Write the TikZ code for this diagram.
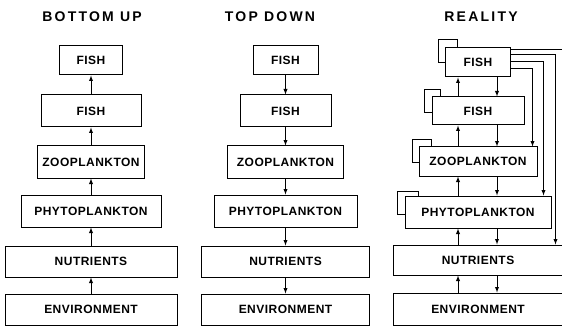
\documentclass[tikz,border=0pt]{standalone}
\usepackage{fontspec}
\setmainfont{Liberation Sans}
\usetikzlibrary{arrows}
\usetikzlibrary{calc}
\newcommand{\diagboxfont}{\bfseries\fontsize{12}{13}\selectfont\addfontfeature{LetterSpace=4}}
\newcommand{\diagtitlefont}{\bfseries\fontsize{14}{15}\selectfont\addfontfeature{LetterSpace=16}}

\begin{document}
\begin{tikzpicture}
	[
	x = 1pt, y = -1pt,
	> = latex,
	box/.style = {draw, line width=1pt, inner sep=0pt, font=\diagboxfont},
	title/.style = {font=\diagtitlefont},
	link/.style = {line width=0.9pt}
	]
		\useasboundingbox (0,0) rectangle (562,326);

		\node[title] (tbu) at (92,17) {BOTTOM UP};
		\node[title] (ttd) at (270,17) {TOP DOWN};
		\node[title] (tre) at (481,17) {REALITY};

		% bottom up
		\node[box, minimum width=63, minimum height=29] (bufishA) at (91,60.5) {FISH};
		\node[box, minimum width=100, minimum height=32] (bufishB) at (91,111) {FISH};
		\node[box, minimum width=107, minimum height=32] (buzoo) at (91,162) {ZOOPLANKTON};
		\node[box, minimum width=140, minimum height=32] (buphy) at (91,211) {PHYTOPLANKTON};
		\node[box, minimum width=172, minimum height=31] (bunut) at (91,261.5) {NUTRIENTS};
		\node[box, minimum width=172, minimum height=31] (buenv) at (91,309.5) {ENVIRONMENT};

		\draw[link,->] (bufishB) -- (bufishA);
		\draw[link,->] (buzoo) -- (bufishB);
		\draw[link,->] (buphy) -- (buzoo);
		\draw[link,->] (bunut) -- (buphy);
		\draw[link,->] (buenv) -- (bunut);

		% top down
		\node[box, minimum width=65, minimum height=29] (tdfishA) at (285.5,60.5) {FISH};
		\node[box, minimum width=91, minimum height=32] (tdfishB) at (285.5,111) {FISH};
		\node[box, minimum width=116, minimum height=32] (tdzoo) at (285.5,162) {ZOOPLANKTON};
		\node[box, minimum width=143, minimum height=32] (tdphy) at (285.5,211) {PHYTOPLANKTON};
		\node[box, minimum width=168, minimum height=31] (tdnut) at (285.5,261.5) {NUTRIENTS};
		\node[box, minimum width=168, minimum height=31] (tdenv) at (285.5,309.5) {ENVIRONMENT};

		\draw[link,->] (tdfishA) -- (tdfishB);
		\draw[link,->] (tdfishB) -- (tdzoo);
		\draw[link,->] (tdzoo) -- (tdphy);
		\draw[link,->] (tdphy) -- (tdnut);
		\draw[link,->] (tdnut) -- (tdenv);

		% reality
		\node[box, minimum width=65, minimum height=29] (refishA) at (478,62.5) {FISH};
		\node[box, minimum width=92, minimum height=28] (refishB) at (478,111) {FISH};
		\node[box, minimum width=118, minimum height=29] (rezoo) at (478,161.5) {ZOOPLANKTON};
		\node[box, minimum width=146, minimum height=32] (rephy) at (478,212) {PHYTOPLANKTON};
		\node[box, minimum width=169, minimum height=30] (renut) at (478,260) {NUTRIENTS};
		\node[box, minimum width=169, minimum height=32] (reenv) at (478,309) {ENVIRONMENT};

		\draw[link,->] ([xshift=-20pt]refishB.north) -- ([xshift=-20pt]refishA.south);
		\draw[link,->] ([xshift=19pt]refishA.south) -- ([xshift=19pt]refishB.north);
		\draw[link,->] ([xshift=-20pt]rezoo.north) -- ([xshift=-20pt]refishB.south);
		\draw[link,->] ([xshift=19pt]refishB.south) -- ([xshift=19pt]rezoo.north);
		\draw[link,->] ([xshift=-20pt]rephy.north) -- ([xshift=-20pt]rezoo.south);
		\draw[link,->] ([xshift=19pt]rezoo.south) -- ([xshift=19pt]rephy.north);
		\draw[link,->] ([xshift=-20pt]renut.north) -- ([xshift=-20pt]rephy.south);
		\draw[link,->] ([xshift=19pt]rephy.south) -- ([xshift=19pt]renut.north);
		\draw[link,->] ([xshift=-20pt]reenv.north) -- ([xshift=-20pt]renut.south);
		\draw[link,->] ([xshift=19pt]renut.south) -- ([xshift=19pt]reenv.north);

		% self loops
		\draw[link] ($(refishA.north west)+(12,0)$) |- ($(refishA.north west)+(-7,-8)$) |- ($(refishA.north west)+(0,15)$);
		\draw[link] ($(refishB.north west)+(9,0)$) |- ($(refishB.north west)+(-7,-7)$) |- ($(refishB.north west)+(0,16)$);
		\draw[link] ($(rezoo.north west)+(13,0)$) |- ($(rezoo.north west)+(-6,-7)$) |- ($(rezoo.north west)+(0,16)$);
		\draw[link] ($(rephy.north west)+(14,0)$) |- ($(rephy.north west)+(-7,-4)$) |- ($(rephy.north west)+(0,19)$);

		% fish to the lower levels
		\coordinate (offpage) at (562,49);
		\draw[link] ($(refishA.east)+(0,-13.5)$) -- (offpage);
		\draw[link,->] ($(refishA.east)+(0,-8.5)$) -| ($(renut.north east)+(-7.5,0)$);
		\draw[link,->] ($(refishA.east)+(0,-1.5)$) -| ($(rephy.north east)+(-8,0)$);
		\draw[link,->] ($(refishA.east)+(0,5.5)$) -| ($(rezoo.north east)+(-5,0)$);

	\end{tikzpicture}
\end{document}
